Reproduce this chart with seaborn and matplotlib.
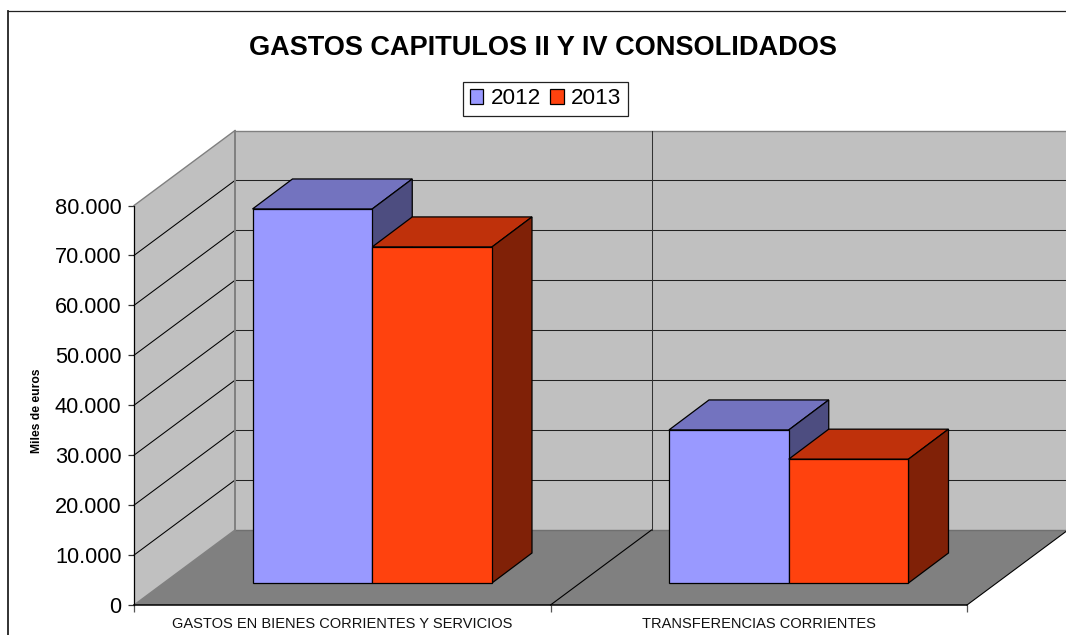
import pandas as pd
import seaborn as sns
import matplotlib.pyplot as plt
from matplotlib.lines import Line2D
from matplotlib.patches import Polygon
from matplotlib.ticker import FuncFormatter
from matplotlib.transforms import Affine2D, IdentityTransform

title = "GASTOS CAPITULOS II Y IV CONSOLIDADOS"
categories = ["GASTOS EN BIENES CORRIENTES Y SERVICIOS", "TRANSFERENCIAS CORRIENTES"]
values_2012 = [74900, 30650]
values_2013 = [67300, 24800]
yticks = [0, 10000, 20000, 30000, 40000, 50000, 60000, 70000, 80000]

W, H = 1066, 635
DPI = 100
# 3d look, in pixels
DEPTH_X, DEPTH_Y = 101, 75
BAR_OFF_X, BAR_OFF_Y = 30, 22
BAR_DEPTH_X, BAR_DEPTH_Y = 40, 30

plt.rcParams["font.family"] = ["Liberation Sans", "DejaVu Sans"]

df = pd.DataFrame({
    "cat": categories * 2,
    "year": ["2012"] * 2 + ["2013"] * 2,
    "value": values_2012 + values_2013,
})

fig = plt.figure(figsize=(W / DPI, H / DPI), dpi=DPI, facecolor="white")
ax = fig.add_axes([134 / W, (H - 605) / H, 833 / W, 399.5 / H])
ax.patch.set_visible(False)

colors = {"2012": "#9999FF", "2013": "#FF420E"}
tops = {"2012": "#7373BF", "2013": "#BF310B"}
sides = {"2012": "#4D4D80", "2013": "#802107"}

sns.barplot(data=df, x="cat", y="value", hue="year", palette=colors, width=0.575,
            gap=0, saturation=1, edgecolor="black", linewidth=0.9, ax=ax, zorder=5)
ax.set_xlim(-0.5, 1.5)
ax.set_ylim(0, 80000)
fig.canvas.draw()


def px(x, y, dx=0, dy=0):
    p = ax.transData.transform((x, y))
    return (p[0] + dx, p[1] + dy)


def poly(points, color, z, edge="none", lw=0.9):
    ax.add_patch(Polygon(points, closed=True, facecolor=color, edgecolor=edge, linewidth=lw,
                         transform=IdentityTransform(), clip_on=False, zorder=z))


def line(a, b, color="black", lw=0.75, z=2):
    ax.add_line(Line2D([a[0], b[0]], [a[1], b[1]], color=color, linewidth=lw,
                       transform=IdentityTransform(), clip_on=False, zorder=z))


x0, x1 = ax.get_xlim()
top = yticks[-1]

# walls and floor
poly([px(x0, 0, DEPTH_X, DEPTH_Y), px(x1, 0, DEPTH_X, DEPTH_Y), px(x1, top, DEPTH_X, DEPTH_Y),
      px(x0, top, DEPTH_X, DEPTH_Y)], "#C0C0C0", 0.5)
poly([px(x0, 0), px(x0, 0, DEPTH_X, DEPTH_Y), px(x0, top, DEPTH_X, DEPTH_Y), px(x0, top)], "#C0C0C0", 0.5)
poly([px(x0, 0), px(x1, 0), px(x1, 0, DEPTH_X, DEPTH_Y), px(x0, 0, DEPTH_X, DEPTH_Y)], "#808080", 1.5)

# gridlines
for v in yticks[1:-1]:
    line(px(x0, v), px(x0, v, DEPTH_X, DEPTH_Y))
    line(px(x0, v, DEPTH_X, DEPTH_Y), px(x1, v, DEPTH_X, DEPTH_Y), "#222222")
line(px(x0, top), px(x0, top, DEPTH_X, DEPTH_Y), "#808080", 1)
line(px(x0, top, DEPTH_X, DEPTH_Y), px(x1, top, DEPTH_X, DEPTH_Y), "#808080", 1)
line(px(x0, 0, DEPTH_X, DEPTH_Y), px(x0, top, DEPTH_X, DEPTH_Y), "#808080", 1.4)
line(px(x0, 0), px(x0, 0, DEPTH_X, DEPTH_Y), "#808080", 1, 1.6)
line(px(x0, 0, DEPTH_X, DEPTH_Y), px(x1, 0, DEPTH_X, DEPTH_Y), "#707070", 1, 1.6)

# divider between the categories and right floor edge
mid = (x0 + x1) / 2
line(px(mid, 0, DEPTH_X, DEPTH_Y), px(mid, top, DEPTH_X, DEPTH_Y), "#333333")
line(px(mid, 0), px(mid, 0, DEPTH_X, DEPTH_Y), "black", 0.8, 1.7)
line(px(x1, 0), px(x1, 0, DEPTH_X, DEPTH_Y), "black", 0.8, 1.7)


def shift(p):
    return (p[0] + BAR_DEPTH_X, p[1] + BAR_DEPTH_Y)


# bars: seaborn draws the front faces, they get pushed into the floor
z = 5
for container, year in zip(ax.containers, ["2012", "2013"]):
    for bar in container:
        left, right = bar.get_x(), bar.get_x() + bar.get_width()
        h = bar.get_height()
        b = px(right, 0, BAR_OFF_X, BAR_OFF_Y)
        c = px(right, h, BAR_OFF_X, BAR_OFF_Y)
        d = px(left, h, BAR_OFF_X, BAR_OFF_Y)
        poly([d, c, shift(c), shift(d)], tops[year], z, "black")
        poly([b, c, shift(c), shift(b)], sides[year], z, "black")
        bar.set_transform(ax.transData + Affine2D().translate(BAR_OFF_X, BAR_OFF_Y))
        bar.set_zorder(z + 0.1)
        bar.set_clip_on(False)
    z += 1

# axes
sns.despine(ax=ax, top=True, right=True)
ax.spines["left"].set_linewidth(0.9)
ax.spines["bottom"].set_linewidth(1.1)
ax.spines["bottom"].set_zorder(3)
ax.set_yticks(yticks)
ax.yaxis.set_major_formatter(FuncFormatter(lambda v, _: f"{int(v):,}".replace(",", ".")))
ax.tick_params(axis="y", length=4.5, width=0.9, labelsize=15.7, pad=4.5, color="#333333")
ax.set_xticks([-0.5, 0.5, 1.5])
ax.set_xticklabels([])
ax.tick_params(axis="x", length=5, width=0.9, color="#555555")
ax.set_xlabel("")
ax.set_ylabel("")
for x, name in zip([0, 1], categories):
    ax.annotate(name, (x, 0), xytext=(0, -19), textcoords="offset pixels", ha="center", va="center",
                fontsize=10.55, color="#111111", annotation_clip=False, xycoords="data")

fig.text(37.5 / W, 1 - 410.5 / H, "Miles de euros", rotation=90, ha="center", va="center",
         fontsize=8.75, fontweight="bold")
fig.text(543 / W, 1 - 48 / H, title, ha="center", va="center", fontsize=19.5, fontweight="bold")

handles, labels = ax.get_legend_handles_labels()
ax.get_legend().remove()
leg = fig.legend(handles, labels, ncol=2, loc="center", bbox_to_anchor=(545.5 / W, 1 - 99 / H),
                 fontsize=16.2, frameon=True, fancybox=False, edgecolor="#222222", framealpha=1,
                 handlelength=0.6, handleheight=0.6, handletextpad=0.32, columnspacing=0.42,
                 borderpad=0.28, borderaxespad=0)
leg.get_frame().set_linewidth(0.9)

# outer chart frame, right and bottom are cut by the picture
fig.add_artist(Line2D([7.5 / W, 7.5 / W], [0, 1 - 10.5 / H], color="#222222", linewidth=1.3))
fig.add_artist(Line2D([7.5 / W, 1], [1 - 10.5 / H, 1 - 10.5 / H], color="#222222", linewidth=0.9))

fig.savefig("out.png", dpi=DPI)
